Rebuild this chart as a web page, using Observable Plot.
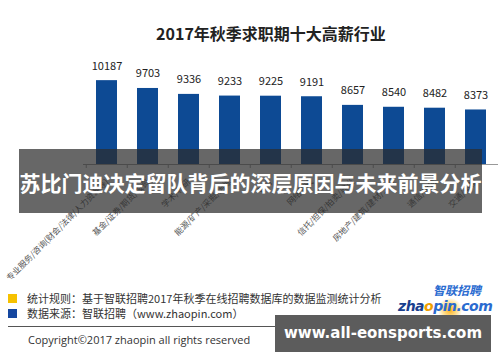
<!DOCTYPE html>
<html><head><meta charset="utf-8">
<script src="https://cdn.jsdelivr.net/npm/d3@7"></script>
<script src="https://cdn.jsdelivr.net/npm/@observablehq/plot@0.6"></script>
<style>
body{margin:0;background:#fff;}
#wrap{position:relative;width:500px;height:362px;overflow:hidden;font-family:"Noto Sans CJK SC","Noto Sans",sans-serif;}
#chart svg{display:block;}
.abs{position:absolute;white-space:nowrap;}
</style></head><body>
<div id="wrap">
  <div id="chart"></div>
  <div class="abs" style="left:0;width:542px;top:23px;text-align:center;font-size:16px;font-weight:bold;color:#222;line-height:20px">2017年秋季求职期十大高薪行业</div>
  <div class="abs" style="left:19px;top:149px;width:463px;height:64px;background:rgba(45,45,45,0.72);color:#fff;font-size:21px;font-weight:bold;text-align:center;line-height:66px">苏比门迪决定留队背后的深层原因与未来前景分析</div>
  <div class="abs" style="left:8px;top:294px;width:9px;height:9px;background:#f6c100"></div>
  <div class="abs" style="left:27px;top:290px;font-size:11px;line-height:16px;color:#333">统计规则：基于智联招聘2017年秋季在线招聘数据库的数据监测统计分析</div>
  <div class="abs" style="left:8px;top:309px;width:9px;height:9px;background:#1547a0"></div>
  <div class="abs" style="left:27px;top:305px;font-size:11px;line-height:16px;color:#333">数据来源：智联招聘（www.zhaopin.com）</div>
  <div class="abs" style="left:8px;top:326px;width:482px;height:1px;background:#555"></div>
  <div class="abs" style="left:28px;top:332px;font-size:11px;line-height:16px;color:#333;font-family:'Open Sans',sans-serif">Copyright©2017 zhaopin all rights reserved</div>
  <div class="abs" style="left:438px;top:298px;width:24px;height:24px;border-radius:50%;background:radial-gradient(circle,rgba(255,170,0,0.9) 0%,rgba(255,200,60,0.5) 45%,rgba(255,230,150,0) 72%)"></div>
  <div class="abs" style="left:433px;top:284px;font-size:12px;line-height:12px;font-weight:bold;font-style:italic;color:#2a6bd0">智联招聘</div>
  <div class="abs" style="left:398px;top:300px;font-size:14px;line-height:13px;font-weight:bold;font-style:italic;font-family:'DejaVu Sans',sans-serif;letter-spacing:-0.5px"><span style="color:#1a3f8f">zha</span><span style="color:#f0a000">o</span><span style="color:#2a6bd0">pin.com</span></div>
  <div class="abs" style="left:275px;top:315px;width:216px;height:37px;background:#5c5c5c;color:#fff;font-size:15px;font-weight:bold;text-align:center;line-height:37px;font-family:'DejaVu Sans',sans-serif">www.all-eonsports.com</div>
</div>
<script>
const industries = [
  "专业服务/咨询(财会/法律/人力资源等)",
  "基金/证券/期货/投资",
  "学术/科研",
  "能源/矿产/采掘/冶炼",
  "银行",
  "网络游戏",
  "信托/担保/拍卖/典当",
  "房地产/建筑/建材/工程",
  "通信/电信",
  "交通/运输"
];
const salaries = [10187, 9703, 9336, 9233, 9225, 9191, 8657, 8540, 8482, 8373];
const yDomain = [5000, 11000];

const data = industries.map((industry, i) => ({industry, salary: salaries[i]}));
const W = 500, mL = 83, mR = 2;
const bandW = (W - mL - mR) / industries.length;

const chart = Plot.plot({
  width: W, height: 362,
  marginLeft: mL, marginRight: mR, marginTop: 67, marginBottom: 198,
  x: {domain: industries, paddingInner: 0.49, paddingOuter: 0.245, label: null},
  y: {domain: yDomain, axis: null},
  style: {fontFamily: "'Noto Sans CJK SC', sans-serif", background: "transparent"},
  marks: [
    Plot.barY(data, {x: "industry", y1: () => yDomain[0], y2: "salary", fill: "#0d4a94"}),
    Plot.text(data, {x: "industry", y: "salary", text: d => String(d.salary), dy: -11, lineAnchor: "bottom", fontSize: 11, fill: "#222"}),
    Plot.ruleY([yDomain[0]], {stroke: "#999"}),
    Plot.axisX({tickSize: 4, tickFormat: () => "", dx: -bandW / 2, stroke: "#999"}),
    Plot.axisX({tickSize: 0, tickRotate: -45, tickPadding: 5, dy: 11, fontSize: 8.3, fill: "#555", label: null})
  ]
});
document.getElementById("chart").appendChild(chart);
</script>
</body></html>
